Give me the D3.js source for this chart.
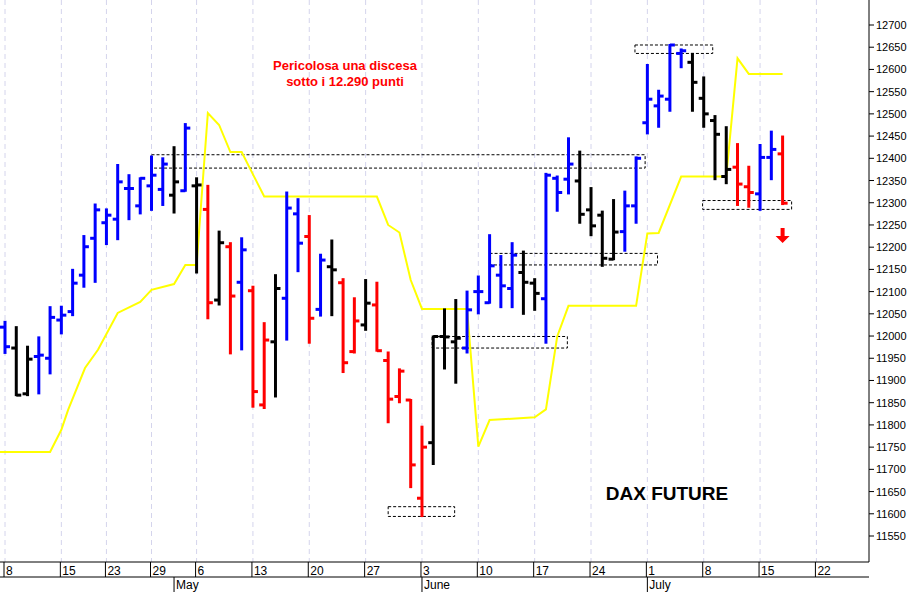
<!DOCTYPE html>
<html><head><meta charset="utf-8">
<script src="https://cdn.jsdelivr.net/npm/d3@7"></script>
<style>body{margin:0;background:#fff}svg{display:block}</style>
</head><body>
<svg id="c" width="915" height="592"></svg>
<script>
const openV  = [12020,11973,11870,11954,11950,12036,12055,12137,12220,12255,12263,12332,12293,12338,12330,12317,12327,12338,12285,12081,12201,12121,12102,11845,11987,12085,12275,12224,12060,12156,12120,11965,12025,12070,11945,11864,11856,11635,11760,11999,11987,11973,12100,12075,12137,12107,12143,12119,12084,12355,12353,12349,12284,12272,12173,12235,12293,12480,12518,12533,12636,12616,12535,12485,12359,12380,12336,12320,12402,12410];
const highV  = [12032,12020,11976,11997,12065,12066,12149,12225,12296,12285,12385,12362,12355,12404,12400,12425,12477,12355,12338,12235,12209,12220,12111,12029,12137,12323,12308,12270,12183,12215,12128,12085,12126,12120,11963,11925,11856,11796,11999,12060,12081,12100,12134,12227,12180,12209,12190,12128,12365,12359,12445,12415,12333,12280,12306,12325,12402,12610,12552,12655,12645,12635,12582,12495,12470,12432,12381,12430,12460,12449];
const lowV   = [11962,11867,11867,11871,11916,12006,12047,12111,12122,12207,12218,12263,12276,12284,12295,12278,12327,12143,12040,12071,11961,11970,11841,11838,11864,11992,12146,11985,12046,12047,11919,11963,12014,11967,11806,11851,11660,11595,11712,11927,11895,11963,12051,12075,12065,12065,12050,12059,11985,12282,12321,12255,12227,12158,12173,12192,12255,12456,12471,12507,12605,12507,12471,12353,12344,12295,12291,12284,12353,12297];
const closeV = [11976,11867,11948,11957,12042,12047,12119,12201,12284,12272,12347,12332,12355,12362,12387,12347,12468,12340,12075,12210,12090,12194,11875,11991,12107,12288,12209,12040,12171,12149,11940,12034,12074,11967,11858,11921,11710,11750,11999,11998,11995,12059,12100,12158,12113,12182,12121,12096,12362,12323,12387,12274,12248,12175,12234,12293,12400,12533,12540,12655,12642,12571,12500,12454,12375,12342,12323,12402,12420,12299];
const barColors = "BKKBBBBBBBBBBBBKBKRKRBRRKBBRBKRRKRRRRRKKKBBBBBKKBBBKKKKBBBBBBKKKKRRBBR";
const stopIdx = [-0.45,4,5,5.6,7.1,8.25,10,12,13,15,16,17,18,19,20,21,23,33,34,35,36,37,41,42,43,47,48,49,50,56,57,58,60,64,65,66,69];
const stopVal = [11739,11739,11789,11834,11928,11969,12052,12077,12104,12117,12160,12160,12502,12475,12414,12414,12314,12314,12250,12233,12126,12061,12061,11751,11811,11817,11835,11999,12068,12068,12231,12232,12359,12359,12625,12590,12590];
const boxes = [[13,56.8,12408,12378],[55.9,62.8,12655,12636],[61.9,69.8,12305,12285],[43,57.9,12186,12160],[37.9,49.9,11999,11973],[34,39.9,11616,11594]];
const weekIdx = [0,5,9,13,17,22,27,32,37,42,47,52,57,62,67,72];
const weekLabels = ["8","15","23","29","6","13","20","27","3","10","17","24","1","8","15","22"];
const monthIdx = [15,37,57];
const monthLabels = ["May","June","July"];
const yTicks = d3.range(11550,12701,50);

const svg = d3.select("#c");
const x = d3.scaleLinear().domain([0,69]).range([5,782.6]);
const y = d3.scaleLinear().domain([11550,12700]).range([536,25]);
const colMap = {B:"#0000ff",K:"#000000",R:"#ff0000"};
const axX = 869, axB = 562;

svg.append("g").selectAll("line").data(weekIdx).join("line")
 .attr("x1",d=>x(d)).attr("x2",d=>x(d)).attr("y1",0).attr("y2",axB)
 .attr("stroke","#d4d4ec").attr("stroke-dasharray","5,4");

svg.append("g").selectAll("rect").data(boxes).join("rect")
 .attr("x",d=>x(d[0])).attr("width",d=>x(d[1])-x(d[0]))
 .attr("y",d=>y(d[2])).attr("height",d=>y(d[3])-y(d[2]))
 .attr("fill","none").attr("stroke","#000").attr("stroke-dasharray","3,2").attr("stroke-width",1);

svg.append("path").datum(stopIdx.map((d,i)=>[d,stopVal[i]]))
 .attr("d",d3.line().x(d=>x(d[0])).y(d=>y(d[1])))
 .attr("fill","none").attr("stroke","#ffff00").attr("stroke-width",2);

const bars = svg.append("g").selectAll("g").data(openV.map((o,i)=>({i,o,h:highV[i],l:lowV[i],c:closeV[i],col:colMap[barColors[i]]}))).join("g")
 .attr("stroke",d=>d.col).attr("stroke-width",3);
bars.append("line").attr("x1",d=>x(d.i)).attr("x2",d=>x(d.i)).attr("y1",d=>y(d.h)-1).attr("y2",d=>y(d.l)+1);
bars.append("line").attr("x1",d=>x(d.i)-5).attr("x2",d=>x(d.i)).attr("y1",d=>y(d.o)).attr("y2",d=>y(d.o));
bars.append("line").attr("x1",d=>x(d.i)).attr("x2",d=>x(d.i)+5).attr("y1",d=>y(d.c)).attr("y2",d=>y(d.c));

svg.append("line").attr("x1",axX).attr("x2",axX).attr("y1",0).attr("y2",axB).attr("stroke","#000");
const ya = svg.append("g").selectAll("g").data(yTicks).join("g");
ya.append("line").attr("x1",axX).attr("x2",axX+5).attr("y1",d=>y(d)).attr("y2",d=>y(d)).attr("stroke","#000");
ya.append("text").attr("x",axX+7).attr("y",d=>y(d)+4).text(d=>d)
 .attr("font-family","Liberation Sans, Arial").attr("font-size",11).attr("fill","#000");

svg.append("line").attr("x1",0).attr("x2",axX).attr("y1",axB).attr("y2",axB).attr("stroke","#000");
svg.append("line").attr("x1",0).attr("x2",axX).attr("y1",577).attr("y2",577).attr("stroke","#000");
const wa = svg.append("g").selectAll("g").data(weekIdx).join("g");
wa.append("line").attr("x1",d=>x(d)-1).attr("x2",d=>x(d)-1).attr("y1",axB).attr("y2",577).attr("stroke","#000");
wa.append("text").attr("x",(d)=>x(d)+1).attr("y",575).text((d,i)=>weekLabels[i])
 .attr("font-family","Liberation Sans Narrow, Liberation Sans, Arial").attr("font-size",12).attr("fill","#000");
const ma = svg.append("g").selectAll("g").data(monthIdx).join("g");
ma.append("line").attr("x1",d=>x(d)).attr("x2",d=>x(d)).attr("y1",577).attr("y2",592).attr("stroke","#000");
ma.append("text").attr("x",d=>x(d)+2).attr("y",589).text((d,i)=>monthLabels[i])
 .attr("font-family","Liberation Sans Narrow, Liberation Sans, Arial").attr("font-size",12).attr("fill","#000");

const t = svg.append("text").attr("font-family","Liberation Sans, Arial").attr("font-weight","bold").attr("font-size",13).attr("fill","#ff0000").attr("text-anchor","middle");
t.append("tspan").attr("x",345).attr("y",70).text("Pericolosa una discesa");
t.append("tspan").attr("x",345).attr("y",86).text("sotto i 12.290 punti");
svg.append("text").attr("x",667).attr("y",500).attr("text-anchor","middle").attr("font-family","Liberation Sans, Arial").attr("font-weight","bold").attr("font-size",19).attr("fill","#000").text("DAX FUTURE");
const ax = x(69), ay = y(12225);
svg.append("path").attr("d",`M${ax-2},${ay-8}h4v8h5l-7,7l-7,-7h5z`).attr("fill","#ff0000");
</script>
</body></html>
